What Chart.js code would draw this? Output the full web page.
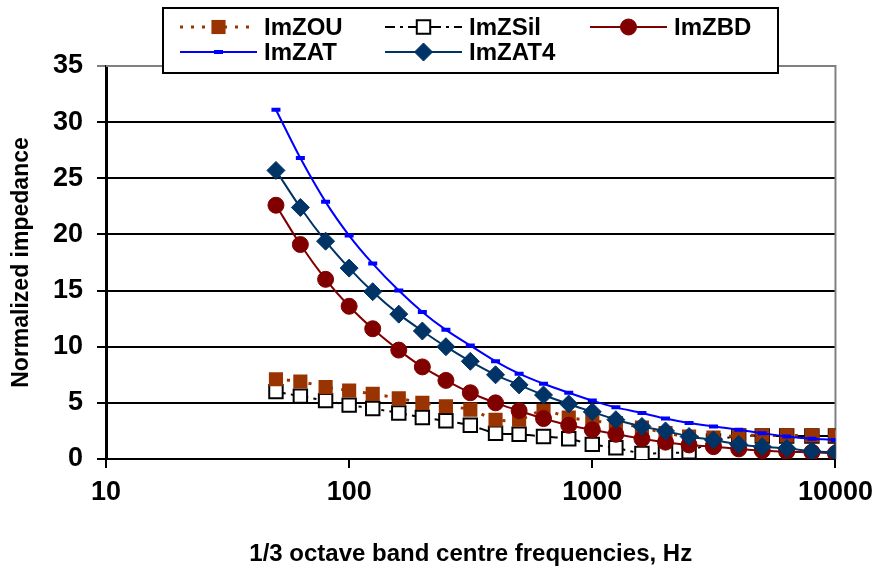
<!DOCTYPE html>
<html>
<head>
<meta charset="utf-8">
<title>Normalized impedance</title>
<script src="https://cdn.jsdelivr.net/npm/chart.js@4.4.0/dist/chart.umd.min.js"></script>
<style>
  body { margin: 0; background: #ffffff; }
  canvas { display: block; }
</style>
</head>
<body>
<canvas id="chart_1" width="881" height="569"></canvas>
<script>
// 1/3 octave band centre frequencies (Hz)
var freqs = [50, 63, 80, 100, 125, 160, 200, 250, 315, 400, 500, 630, 800, 1000,
             1250, 1600, 2000, 2500, 3150, 4000, 5000, 6300, 8000, 10000];

// imaginary part of normalized impedance
var imZOU  = [7.1, 6.9, 6.4, 6.1, 5.8, 5.4, 5.0, 4.7, 4.4, 3.5, 3.5, 4.3, 3.7, 3.4,
              3.2, 2.8, 2.3, 2.0, 1.9, 2.1, 2.1, 2.1, 2.1, 2.1];
var imZSil = [6.0, 5.6, 5.2, 4.8, 4.5, 4.1, 3.7, 3.4, 3.0, 2.3, 2.2, 2.0, 1.8, 1.3,
              1.0, 0.5, 0.55, 0.65, 1.6, 2.05, 2.05, 2.05, 2.05, 2.05];
var imZBD  = [22.6, 19.1, 16.0, 13.6, 11.6, 9.7, 8.2, 7.0, 5.9, 5.0, 4.3, 3.6, 3.0, 2.6,
              2.2, 1.8, 1.5, 1.25, 1.1, 0.9, 0.75, 0.65, 0.6, 0.5];
var imZAT  = [31.1, 26.8, 22.9, 19.9, 17.4, 15.0, 13.1, 11.5, 10.1, 8.7, 7.6, 6.7, 5.9, 5.2,
              4.6, 4.1, 3.6, 3.2, 2.9, 2.6, 2.3, 2.0, 1.8, 1.7];
var imZAT4 = [25.7, 22.4, 19.4, 17.0, 14.9, 12.9, 11.4, 10.0, 8.7, 7.5, 6.6, 5.7, 4.9, 4.2,
              3.5, 2.9, 2.5, 2.0, 1.7, 1.3, 1.1, 0.95, 0.7, 0.6];

var xTickValues = [10, 100, 1000, 10000];
var yMin = 0, yMax = 35, yStep = 5;

var FONT = "'Liberation Sans', Arial, sans-serif";

function toPoints(values){
  var pts = [];
  for (var i = 0; i < freqs.length; i++){
    pts.push({x: freqs[i], y: values[i]});
  }
  return pts;
}

// legend placement (custom, two rows like the original)
var legendBox = {left: 163, top: 8, right: 778, bottom: 73};
var legendCols = [180, 385, 590];
var legendRows = [27, 52];
var legendSampleW = 77;
var legendSlots = [[0, 0], [1, 0], [2, 0], [0, 1], [1, 1]];

var plotFrame = {
  id: 'plotFrame',
  beforeDatasetsDraw: function(chart){
    var a = chart.chartArea, ctx = chart.ctx;
    ctx.save();
    ctx.strokeStyle = '#808080';
    ctx.lineWidth = 2;
    ctx.beginPath();
    ctx.moveTo(a.left, a.top);
    ctx.lineTo(a.right, a.top);
    ctx.lineTo(a.right, a.bottom);
    ctx.stroke();
    ctx.restore();
  }
};

var boxLegend = {
  id: 'boxLegend',
  afterDraw: function(chart){
    var ctx = chart.ctx;
    ctx.save();
    ctx.fillStyle = '#ffffff';
    ctx.fillRect(legendBox.left, legendBox.top, legendBox.right - legendBox.left, legendBox.bottom - legendBox.top);
    ctx.strokeStyle = '#000000';
    ctx.lineWidth = 2;
    ctx.strokeRect(legendBox.left, legendBox.top, legendBox.right - legendBox.left, legendBox.bottom - legendBox.top);

    chart.data.datasets.forEach(function(ds, i){
      var x = legendCols[legendSlots[i][0]];
      var y = legendRows[legendSlots[i][1]];
      // line sample
      ctx.setLineDash(ds.borderDash || []);
      ctx.strokeStyle = ds.borderColor;
      ctx.lineWidth = ds.borderWidth;
      ctx.beginPath();
      ctx.moveTo(x, y);
      ctx.lineTo(x + legendSampleW, y);
      ctx.stroke();
      // marker
      ctx.setLineDash([]);
      ctx.fillStyle = ds.pointBackgroundColor;
      ctx.strokeStyle = ds.pointBorderColor;
      ctx.lineWidth = ds.pointBorderWidth;
      Chart.helpers.drawPoint(ctx, {
        pointStyle: ds.pointStyle,
        radius: ds.pointRadius,
        rotation: 0,
        borderWidth: ds.pointBorderWidth
      }, x + legendSampleW / 2, y);
      // label
      ctx.fillStyle = '#000000';
      ctx.font = 'bold 24px ' + FONT;
      ctx.textAlign = 'left';
      ctx.textBaseline = 'middle';
      ctx.fillText(ds.label, x + legendSampleW + 7, y + 1);
    });
    ctx.restore();
  }
};

var ctx_1 = document.getElementById('chart_1').getContext('2d');
var chart_1 = new Chart(ctx_1, {
  type: 'line',
  data: {
    datasets: [{
      label: 'ImZOU',
      data: toPoints(imZOU),
      order: 4,
      borderColor: '#993300',
      borderWidth: 3,
      borderDash: [3, 8],
      tension: 0.3,
      pointStyle: 'rect',
      pointRadius: 10,
      pointBackgroundColor: '#993300',
      pointBorderColor: '#993300',
      pointBorderWidth: 0
    }, {
      label: 'ImZSil',
      data: toPoints(imZSil),
      order: 5,
      borderColor: '#000000',
      borderWidth: 2,
      borderDash: [10, 5, 3, 5],
      tension: 0.3,
      pointStyle: 'rect',
      pointRadius: 9.5,
      pointBackgroundColor: '#ffffff',
      pointBorderColor: '#000000',
      pointBorderWidth: 2
    }, {
      label: 'ImZBD',
      data: toPoints(imZBD),
      order: 3,
      borderColor: '#800000',
      borderWidth: 2,
      tension: 0.3,
      pointStyle: 'circle',
      pointRadius: 8,
      pointBackgroundColor: '#800000',
      pointBorderColor: '#800000',
      pointBorderWidth: 1
    }, {
      label: 'ImZAT',
      data: toPoints(imZAT),
      order: 2,
      borderColor: '#0000ff',
      borderWidth: 2,
      tension: 0.3,
      pointStyle: 'line',
      pointRadius: 4.5,
      pointBackgroundColor: '#0000ff',
      pointBorderColor: '#0000ff',
      pointBorderWidth: 4
    }, {
      label: 'ImZAT4',
      data: toPoints(imZAT4),
      order: 1,
      borderColor: '#003366',
      borderWidth: 2,
      tension: 0.3,
      pointStyle: 'rectRot',
      pointRadius: 9,
      pointBackgroundColor: '#003366',
      pointBorderColor: '#003366',
      pointBorderWidth: 1
    }]
  },
  options: {
    responsive: false,
    animation: false,
    devicePixelRatio: 1,
    events: [],
    layout: {
      padding: {left: 0, right: 45, top: 66, bottom: 0}
    },
    plugins: {
      legend: {display: false},
      tooltip: {enabled: false}
    },
    scales: {
      x: {
        type: 'logarithmic',
        min: 10,
        max: 10000,
        afterBuildTicks: function(scale){
          scale.ticks = xTickValues.map(function(v){ return {value: v}; });
        },
        afterFit: function(scale){ scale.height = 110; },
        ticks: {
          autoSkip: false,
          maxRotation: 0,
          padding: 8,
          color: '#000000',
          font: {family: FONT, size: 27, weight: 'bold'},
          callback: function(v){ return String(v); }
        },
        grid: {
          drawOnChartArea: false,
          drawTicks: true,
          tickLength: 9,
          color: '#000000',
          lineWidth: 2
        },
        border: {color: '#000000', width: 2},
        title: {
          display: true,
          text: '1/3 octave band centre frequencies, Hz',
          color: '#000000',
          font: {family: FONT, size: 24, weight: 'bold'},
          padding: {top: 5, bottom: 0}
        }
      },
      y: {
        type: 'linear',
        min: yMin,
        max: yMax,
        afterFit: function(scale){ scale.width = 106; },
        ticks: {
          stepSize: yStep,
          padding: 14,
          color: '#000000',
          font: {family: FONT, size: 27, weight: 'bold'}
        },
        grid: {
          tickLength: 9,
          lineWidth: 2,
          color: function(c){ return c.tick && c.tick.value === yMax ? '#808080' : '#000000'; }
        },
        border: {color: '#000000', width: 3},
        title: {
          display: true,
          text: 'Normalized impedance',
          color: '#000000',
          font: {family: FONT, size: 23, weight: 'bold'},
          padding: {top: 8, bottom: 0}
        }
      }
    }
  },
  plugins: [plotFrame, boxLegend]
});
</script>
</body>
</html>
